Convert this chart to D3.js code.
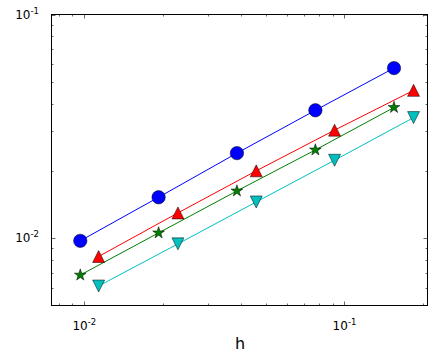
<!DOCTYPE html>
<html><head><meta charset="utf-8">
<script src="https://cdn.jsdelivr.net/npm/d3@7"></script>
<style>body{margin:0;background:#fff}svg{display:block}text{font-family:"DejaVu Sans",sans-serif}</style>
</head><body>
<svg id="c" width="437" height="357"></svg>
<script>
// data
const hA = [0.00965, 0.0193, 0.0386, 0.0773, 0.155];
const hB = [0.01135, 0.0229, 0.0458, 0.0916, 0.1843];
const blueVals  = [0.00973, 0.01524, 0.0240, 0.0373, 0.0576];
const redVals   = [0.00828, 0.01297, 0.0200, 0.0304, 0.0458];
const greenVals = [0.00684, 0.01056, 0.01626, 0.0248, 0.0384];
const cyanVals  = [0.00611, 0.00943, 0.01452, 0.0223, 0.0346];
const xTickVals = [0.01, 0.1];
const xTickLabels = ["-2", "-1"];
const yTickVals = [0.01, 0.1];
const yTickLabels = ["-2", "-1"];
const xLabel = "h";

const series = [
  {h: hA, v: blueVals,  color: "#0000ff", marker: "circle"},
  {h: hB, v: redVals,   color: "#ff0000", marker: "up"},
  {h: hA, v: greenVals, color: "#008000", marker: "star"},
  {h: hB, v: cyanVals,  color: "#00bfbf", marker: "down"}
];

const L = 51.5, R = 427.5, T = 14.5, B = 305.5;
const x = d3.scaleLog().domain([0.00748, 0.2085]).range([L, R]);
const y = d3.scaleLog().domain([0.005, 0.1]).range([B, T]);
const svg = d3.select("#c");

// minor ticks
const xMinor = [];
for (const d of [0.001, 0.01, 0.1]) for (let k = 2; k <= 9; k++) { const v = d * k; if (v > 0.00748 && v < 0.2085) xMinor.push(v); }
const yMinor = [];
for (const d of [0.001, 0.01]) for (let k = 2; k <= 9; k++) { const v = d * k; if (v > 0.005 && v < 0.1) yMinor.push(v); }

const g = svg.append("g").attr("stroke", "#000").attr("stroke-width", 0.6);
xMinor.forEach(v => { const px = Math.round(x(v)) + 0.5;
  g.append("line").attr("x1", px).attr("x2", px).attr("y1", B).attr("y2", B - 2);
  g.append("line").attr("x1", px).attr("x2", px).attr("y1", T).attr("y2", T + 2); });
yMinor.forEach(v => { const py = Math.round(y(v)) + 0.5;
  g.append("line").attr("x1", L).attr("x2", L + 2).attr("y1", py).attr("y2", py);
  g.append("line").attr("x1", R).attr("x2", R - 2).attr("y1", py).attr("y2", py); });
xTickVals.forEach(v => { const px = Math.round(x(v)) + 0.5;
  g.append("line").attr("x1", px).attr("x2", px).attr("y1", B).attr("y2", B - 4);
  g.append("line").attr("x1", px).attr("x2", px).attr("y1", T).attr("y2", T + 4); });
yTickVals.forEach(v => { const py = Math.round(y(v)) + 0.5;
  g.append("line").attr("x1", L).attr("x2", L + 4).attr("y1", py).attr("y2", py);
  g.append("line").attr("x1", R).attr("x2", R - 4).attr("y1", py).attr("y2", py); });

// tick labels
xTickVals.forEach((v, i) => {
  const t = svg.append("text").attr("x", x(v)).attr("y", 330).attr("text-anchor", "middle").attr("font-size", 12).attr("fill", "#000");
  t.append("tspan").text("10");
  t.append("tspan").attr("dy", -5).attr("font-size", 8.5).text(xTickLabels[i]);
});
yTickVals.forEach((v, i) => {
  const t = svg.append("text").attr("x", 39).attr("y", y(v) + 4).attr("text-anchor", "end").attr("font-size", 12).attr("fill", "#000");
  t.append("tspan").text("10");
  t.append("tspan").attr("dy", -5).attr("font-size", 8.5).text(yTickLabels[i]);
});
svg.append("text").attr("x", 240).attr("y", 349).attr("text-anchor", "middle").attr("font-size", 16).attr("fill", "#000").text(xLabel);

// lines
const line = d3.line().x(d => x(d[0])).y(d => y(d[1]));
series.forEach(s => {
  svg.append("path").attr("d", line(s.h.map((h, i) => [h, s.v[i]]))).attr("fill", "none").attr("stroke", s.color).attr("stroke-width", 1);
});

// markers
function starPath(ro) {
  const ri = ro * 0.381966; let p = "";
  for (let i = 0; i < 10; i++) { const r = i % 2 ? ri : ro; const a = -Math.PI / 2 + i * Math.PI / 5;
    p += (i ? "L" : "M") + (r * Math.cos(a)).toFixed(2) + "," + (r * Math.sin(a)).toFixed(2); }
  return p + "Z";
}
const shapes = {
  circle: d3.symbol().type(d3.symbolCircle).size(Math.PI * 6.7 * 6.7)(),
  up: "M0,-6L-6,6L6,6Z",
  down: "M0,6L-6,-6L6,-6Z",
  star: starPath(6.2)
};
series.forEach(s => {
  s.h.forEach((h, i) => {
    svg.append("path").attr("d", shapes[s.marker]).attr("transform", `translate(${x(h)},${y(s.v[i])})`)
      .attr("fill", s.color).attr("stroke", "#000").attr("stroke-width", 0.5);
  });
});

// frame
svg.append("rect").attr("x", L).attr("y", T).attr("width", R - L).attr("height", B - T).attr("fill", "none").attr("stroke", "#000").attr("stroke-width", 1);
</script>
</body></html>
